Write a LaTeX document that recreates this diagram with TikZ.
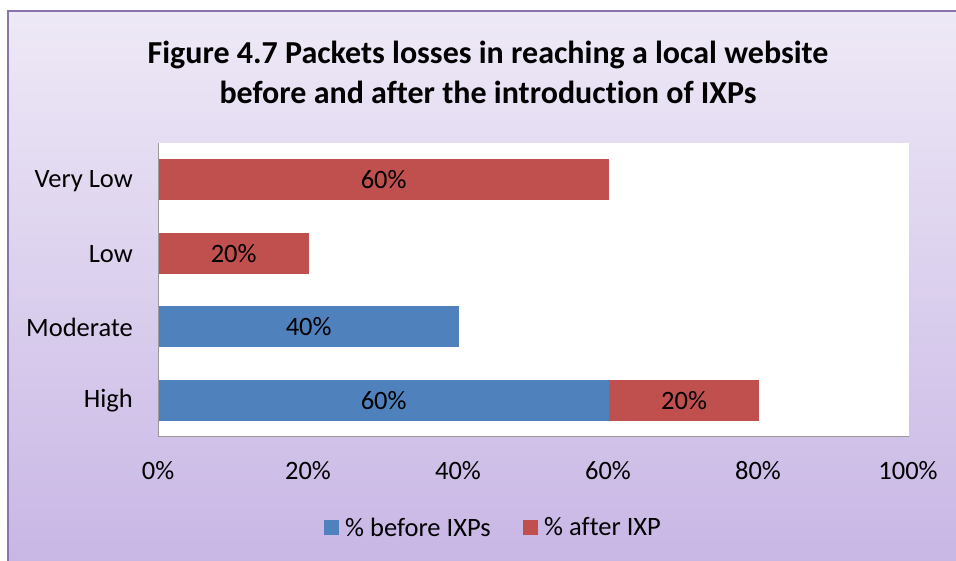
\documentclass[tikz,border=0pt]{standalone}
\usepackage{fontspec}
\setmainfont{Carlito}[Ligatures={NoCommon}]
\definecolor{bgtop}{HTML}{EEE9F6}
\definecolor{bgbot}{HTML}{C6B4E4}
\definecolor{frame}{HTML}{8A74AE}
\definecolor{barblue}{HTML}{4F81BD}
\definecolor{barred}{HTML}{C0504D}
\definecolor{axisgray}{HTML}{9A9A9A}
\tikzset{
  lbl/.style={font=\fontsize{26.5}{30}\selectfont, inner sep=0pt, text=black},
  bar/.style={lbl, minimum height=41pt, anchor=west},
  cat/.style={lbl, anchor=east},
  tick/.style={lbl},
  legtext/.style={lbl, anchor=west},
  legbox/.style={inner sep=0pt, minimum size=15pt, anchor=west},
}
\begin{document}
\begin{tikzpicture}[x=1pt,y=-1pt]
\useasboundingbox (0,0) rectangle (956,560);
\fill[white] (0,0) rectangle (956,560);
\begin{scope}
\clip (0,0) rectangle (956,560);
\shade[top color=bgtop, bottom color=bgbot, draw=frame, line width=1.2pt] (8,11) rectangle (980,590);
\end{scope}
% title
\node[font=\bfseries\fontsize{32}{40}\selectfont, align=center] (title) at (488,72)
  {Figure 4.7 Packets losses in reaching a local website\\before and after the introduction of IXPs};
% plot area
\fill[white] (158.5,143) rectangle (909,436.5);
\draw[axisgray, line width=1pt] (158.5,143) -- (158.5,436.5) -- (909,436.5);
% bars
\node[bar, fill=barred, minimum width=450pt] (vl) at (158.5,179.75) {60\%};
\node[bar, fill=barred, minimum width=150pt] (lo) at (158.5,253.25) {20\%};
\node[bar, fill=barblue, minimum width=300pt] (mo) at (158.5,326.75) {40\%};
\node[bar, fill=barblue, minimum width=450pt] (hib) at (158.5,400.25) {60\%};
\node[bar, fill=barred, minimum width=150pt] (hia) at (hib.east) {20\%};
% categories
\node[cat] (cvl) at (133,181.5) {Very Low};
\node[cat] (clo) at (133,254) {Low};
\node[cat] (cmo) at (133,327) {Moderate};
\node[cat] (chi) at (133,401) {High};
% ticks
\node[tick] (t0) at (158,471) {0\%};
\node[tick] (t20) at (308,471) {20\%};
\node[tick] (t40) at (458,471) {40\%};
\node[tick] (t60) at (608,471) {60\%};
\node[tick] (t80) at (758,471) {80\%};
\node[tick] (t100) at (908,471) {100\%};
% legend
\node[legbox, fill=barblue] (lb) at (324,527.5) {};
\node[legtext] (lbt) at (345,527) {\% before IXPs};
\node[legbox, fill=barred] (lr) at (523,527.5) {};
\node[legtext] (lrt) at (544,527) {\% after IXP};
\end{tikzpicture}
\end{document}
